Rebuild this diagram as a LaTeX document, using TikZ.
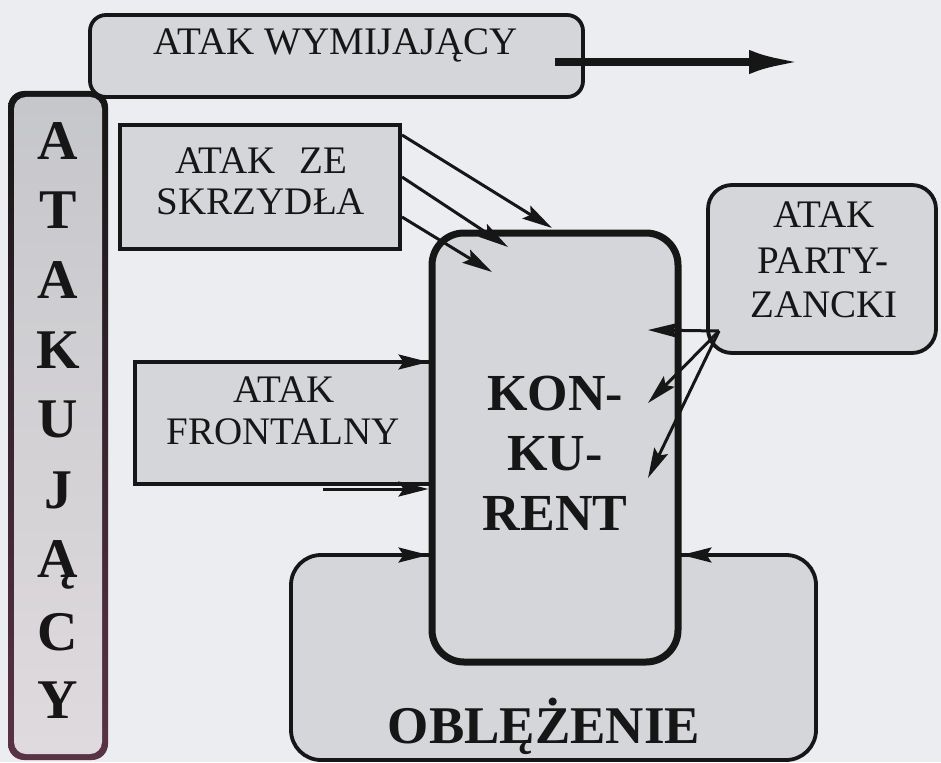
\documentclass[tikz,border=0pt]{standalone}
\usepackage{fontspec}
\setmainfont{Liberation Serif}
\usetikzlibrary{arrows.meta,calc}
\definecolor{bg}{HTML}{ECEDF0}
\definecolor{boxfill}{HTML}{D5D6DA}
\definecolor{ink}{HTML}{161616}
\definecolor{fadeink}{HTML}{5A3345}
\definecolor{atktop}{HTML}{C6C7CB}
\definecolor{atkbot}{HTML}{DFDADD}

\begin{document}
\begin{tikzpicture}[x=1pt,y=-1pt,
  every node/.style={inner sep=0pt, outer sep=0pt},
  box/.style={draw=ink, fill=boxfill, line width=3.8pt},
  rbox/.style={box, rounded corners=#1},
  lbl/.style={anchor=base, text=ink, font=\fontsize{39}{42}\selectfont},
  blbl/.style={anchor=base, text=ink, font=\fontsize{52}{56}\selectfont\bfseries},
  letter/.style={anchor=base, text=ink, font=\fontsize{56}{60}\selectfont\bfseries},
  arr/.style={draw=ink, line width=3pt, -{Stealth[length=30pt,width=15pt,inset=5pt]}},
  bigarr/.style={draw=ink, line width=8pt, -{Latex[length=52pt,width=24pt]}}
]
% canvas
\useasboundingbox (0,0) rectangle (941,762);
\fill[bg] (0,0) rectangle (941,762);

% vertical "ATAKUJĄCY" bar: shaded border, then shaded body
\shade[top color=ink, middle color=ink, bottom color=fadeink, rounded corners=16pt]
  (8,91) rectangle (108,760);
\node[rounded corners=12pt, top color=atktop, bottom color=atkbot,
      minimum width=88pt, minimum height=657pt] (atk) at (58,425.5) {};
\foreach \ch/\yb [count=\i] in {A/160,T/228,A/298,K/368,U/437,J/508,Ą/577,C/650,Y/718}
  \node[letter] (atk\i) at (58,\yb) {\ch};

% side boxes
\node[box, minimum width=280pt, minimum height=124pt] (ze) at (260,187) {};
\node[box, minimum width=305pt, minimum height=122pt] (fr) at (287.5,423) {};
\node[rbox=30pt, minimum width=525pt, minimum height=205pt] (obl) at (553.5,657.5) {};
\node[rbox=24pt, minimum width=228pt, minimum height=168pt] (pz) at (822,269) {};

% competitor box
\node[rbox=32pt, line width=7pt, outer sep=3.5pt, minimum width=246pt, minimum height=429pt]
  (kon) at (555,447.5) {};

% siege arrows along the top edge of the siege box
\draw[arr] ($(kon.west |- obl.north)+(-80,0)$) -- (kon.west |- obl.north);
\draw[arr] ($(kon.east |- obl.north)+(80,0)$) -- (kon.east |- obl.north);

% frontal attack arrows
\draw[arr] (fr.north west) -- (kon.west |- fr.north);
\coordinate (frlow) at (323,489);
\draw[arr] (frlow) -- (kon.west |- frlow);

% flank attack arrows
\coordinate (zt1) at (552,228);
\coordinate (zt2) at (508,247);
\coordinate (zt3) at (492,272);
\draw[arr] ($(ze.north east)+(2,10)$) -- (zt1);
\draw[arr] ($(ze.north east)+(2,52)$) -- (zt2);
\draw[arr] ($(ze.north east)+(2,92)$) -- (zt3);

% guerrilla attack arrows
\coordinate (pzsrc) at (719,331);
\coordinate (pt1) at (648,330);
\coordinate (pt2) at (648,403);
\coordinate (pt3) at (648,478);
\draw[arr] (pzsrc) -- (pt1);
\draw[arr] (pzsrc) -- (pt2);
\draw[arr] (pzsrc) -- (pt3);

% bypass attack box and its arrow
\node[rbox=16pt, minimum width=493pt, minimum height=82pt] (wym) at (336.5,56) {};
\coordinate (wsrc) at (555,62);
\coordinate (wtip) at (801,62);
\draw[bigarr] (wsrc) -- (wtip);

% labels
\node[lbl] (wymt) at (336,55) {ATAK WYMIJAJĄCY};
\node[lbl] (zet1) at (261,174) {ATAK\hspace{0.6em}ZE};
\node[lbl] (zet2) at (261,214) {SKRZYDŁA};
\node[lbl] (frt1) at (284,402) {ATAK};
\node[lbl] (frt2) at (283,444) {FRONTALNY};
\node[lbl] (pzt1) at (824,227) {ATAK};
\node[lbl] (pzt2) at (823,273) {PARTY-};
\node[lbl] (pzt3) at (824,317) {ZANCKI};
\node[blbl] (kont1) at (555,410) {KON-};
\node[blbl] (kont2) at (555,470) {KU-};
\node[blbl] (kont3) at (555,530) {RENT};
\node[blbl, font=\fontsize{53}{56}\selectfont\bfseries] (oblt) at (544,743) {OBLĘŻENIE};
\end{tikzpicture}
\end{document}
